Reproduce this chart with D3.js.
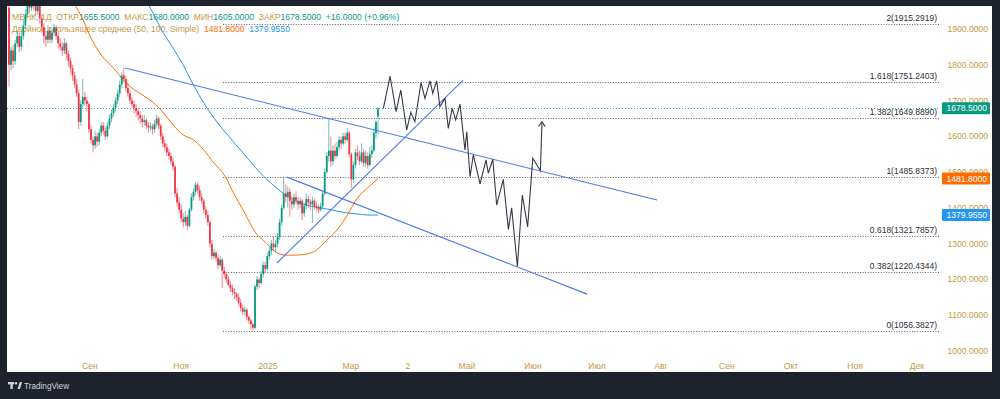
<!DOCTYPE html>
<html>
<head>
<meta charset="utf-8">
<script src="https://cdn.jsdelivr.net/npm/d3@7"></script>
<style>
  body { margin: 0; background: #1e222d; }
  svg { display: block; font-family: "Liberation Sans", Arial, sans-serif; }
</style>
</head>
<body>
<div id="chart"></div>
<script>
// daily candles, bar index 0..180
const candleOpen = [
  1960, 1800, 1840, 1810, 1860, 1880, 1850, 1880, 1910, 1940,
  1975, 1960, 1985, 1970, 1950, 1965, 1930, 1905, 1880, 1870,
  1895, 1870, 1890, 1905, 1880, 1860, 1850, 1840, 1860, 1830,
  1810, 1790, 1770, 1745, 1720, 1640, 1690, 1710, 1700, 1690,
  1620, 1590, 1575, 1600, 1585, 1610, 1630, 1615, 1600, 1630,
  1650, 1665, 1680, 1700, 1720, 1745, 1770, 1760, 1735, 1720,
  1700, 1690, 1680, 1670, 1660, 1650, 1640, 1645, 1630, 1625,
  1628, 1620, 1635, 1650, 1630, 1600, 1580, 1570, 1555, 1545,
  1530, 1515, 1440, 1415, 1395, 1370, 1360, 1375, 1350, 1395,
  1430, 1445, 1465, 1450, 1430, 1420, 1395, 1380, 1360, 1300,
  1265, 1275, 1260, 1240, 1255, 1225, 1215, 1200, 1185, 1175,
  1165, 1160, 1150, 1135, 1120, 1110, 1115, 1095, 1085, 1075,
  1065, 1180, 1200, 1190, 1215, 1240, 1230, 1265, 1280, 1300,
  1290, 1300, 1320, 1360, 1400, 1440, 1430, 1445, 1420, 1410,
  1430, 1420, 1410, 1420, 1385, 1405, 1425, 1415, 1410, 1420,
  1405, 1400, 1395, 1405, 1440, 1500, 1545, 1560, 1530, 1560,
  1545, 1570, 1590, 1580, 1600, 1590, 1610, 1550, 1480, 1520,
  1555, 1545, 1530, 1555, 1525, 1545, 1520, 1550, 1560, 1610,
  1655.5
];
const candleHigh = [
  1985, 1850, 1855, 1870, 1895, 1890, 1895, 1925, 1955, 1995,
  1990, 2010, 1995, 1980, 1985, 1970, 1940, 1915, 1895, 1910,
  1905, 1900, 1915, 1910, 1890, 1875, 1865, 1875, 1865, 1840,
  1820, 1800, 1780, 1760, 1730, 1700, 1760, 1725, 1710, 1695,
  1630, 1600, 1615, 1610, 1620, 1640, 1640, 1625, 1640, 1660,
  1675, 1690, 1710, 1730, 1755, 1780, 1792, 1770, 1750, 1730,
  1710, 1700, 1690, 1680, 1670, 1660, 1660, 1650, 1640, 1640,
  1635, 1645, 1660, 1655, 1635, 1610, 1590, 1580, 1565, 1555,
  1540, 1520, 1455, 1430, 1410, 1385, 1390, 1380, 1400, 1440,
  1455, 1472, 1470, 1460, 1440, 1425, 1405, 1390, 1365, 1310,
  1285, 1280, 1270, 1265, 1260, 1235, 1220, 1210, 1195, 1185,
  1175, 1165, 1160, 1145, 1130, 1125, 1120, 1100, 1090, 1080,
  1185, 1210, 1205, 1225, 1250, 1250, 1275, 1290, 1310, 1320,
  1310, 1330, 1370, 1410, 1486, 1465, 1460, 1455, 1435, 1440,
  1445, 1430, 1430, 1425, 1415, 1440, 1435, 1425, 1430, 1425,
  1415, 1410, 1415, 1445, 1510, 1555, 1651, 1600, 1575, 1580,
  1585, 1600, 1600, 1610, 1610, 1623, 1615, 1555, 1530, 1565,
  1575, 1560, 1580, 1565, 1560, 1555, 1570, 1575, 1625, 1645,
  1680
];
const candleLow = [
  1740, 1785, 1790, 1800, 1850, 1835, 1840, 1870, 1900, 1930,
  1945, 1950, 1955, 1935, 1940, 1915, 1890, 1860, 1850, 1860,
  1860, 1860, 1880, 1870, 1845, 1840, 1825, 1830, 1815, 1795,
  1775, 1755, 1735, 1710, 1620, 1630, 1680, 1685, 1670, 1610,
  1580, 1555, 1565, 1570, 1575, 1600, 1605, 1590, 1595, 1620,
  1640, 1655, 1670, 1690, 1710, 1735, 1750, 1725, 1710, 1690,
  1680, 1665, 1655, 1645, 1635, 1625, 1630, 1620, 1610, 1615,
  1605, 1610, 1625, 1620, 1590, 1570, 1560, 1545, 1535, 1520,
  1505, 1430, 1405, 1385, 1360, 1345, 1350, 1338, 1345, 1390,
  1420, 1435, 1440, 1420, 1410, 1385, 1370, 1350, 1290, 1255,
  1255, 1250, 1230, 1235, 1176, 1205, 1190, 1180, 1165, 1155,
  1145, 1140, 1125, 1110, 1100, 1100, 1085, 1075, 1060, 1056,
  1060, 1170, 1175, 1185, 1205, 1220, 1225, 1255, 1270, 1280,
  1275, 1290, 1310, 1350, 1395, 1415, 1400, 1375, 1395, 1400,
  1410, 1395, 1400, 1366, 1375, 1395, 1400, 1395, 1358, 1395,
  1390, 1385, 1390, 1400, 1435, 1495, 1530, 1515, 1520, 1535,
  1540, 1560, 1565, 1575, 1580, 1585, 1540, 1456, 1470, 1510,
  1535, 1520, 1525, 1515, 1515, 1510, 1515, 1540, 1555, 1595,
  1605
];
const candleClose = [
  1800, 1840, 1810, 1860, 1880, 1850, 1880, 1910, 1940, 1975,
  1960, 1985, 1970, 1950, 1965, 1930, 1905, 1880, 1870, 1895,
  1870, 1890, 1905, 1880, 1860, 1850, 1840, 1860, 1830, 1810,
  1790, 1770, 1745, 1720, 1640, 1690, 1710, 1700, 1690, 1620,
  1590, 1575, 1600, 1585, 1610, 1630, 1615, 1600, 1630, 1650,
  1665, 1680, 1700, 1720, 1745, 1770, 1760, 1735, 1720, 1700,
  1690, 1680, 1670, 1660, 1650, 1640, 1645, 1630, 1625, 1628,
  1620, 1635, 1650, 1630, 1600, 1580, 1570, 1555, 1545, 1530,
  1515, 1440, 1415, 1395, 1370, 1360, 1375, 1350, 1395, 1430,
  1445, 1465, 1450, 1430, 1420, 1395, 1380, 1360, 1300, 1265,
  1275, 1260, 1240, 1255, 1225, 1215, 1200, 1185, 1175, 1165,
  1160, 1150, 1135, 1120, 1110, 1115, 1095, 1085, 1075, 1065,
  1180, 1200, 1190, 1215, 1240, 1230, 1265, 1280, 1300, 1290,
  1300, 1320, 1360, 1400, 1440, 1430, 1445, 1420, 1410, 1430,
  1420, 1410, 1420, 1385, 1405, 1425, 1415, 1410, 1420, 1405,
  1400, 1395, 1405, 1440, 1500, 1545, 1560, 1530, 1560, 1545,
  1570, 1590, 1580, 1600, 1590, 1610, 1550, 1480, 1520, 1555,
  1545, 1530, 1555, 1525, 1545, 1520, 1550, 1560, 1610, 1640,
  1678.5
];

// moving averages (sampled every 5 bars)
const maBars = [30, 35, 40, 45, 50, 55, 60, 65, 70, 75, 80, 85, 90, 95, 100, 105, 110,
  115, 120, 125, 130, 135, 140, 145, 150, 155, 160, 165, 170, 175, 180];
const sma50 = [1985, 1939, 1875, 1827, 1797, 1763, 1735, 1716, 1696, 1668, 1632, 1604, 1590,
  1562, 1525, 1492, 1436, 1386, 1333, 1305, 1277, 1268, 1268, 1271, 1282, 1310, 1338, 1380,
  1428, 1456, 1481.8];
const sma100 = [null, null, null, null, null, null, null, 2000, 1947, 1892, 1847, 1799, 1743,
  1693, 1651, 1615, 1581, 1548, 1514, 1484, 1458, 1436, 1419, 1408, 1402, 1397, 1391, 1386,
  1383, 1380, 1379.955];

// axes
const priceTicks = [1000, 1100, 1200, 1300, 1400, 1500, 1600, 1700, 1800, 1900];
const timeLabels = ["Сен", "Ноя", "2025", "Мар", "2", "Май", "Июн", "Июл", "Авг", "Сен", "Окт", "Ноя", "Дек"];
const timeBars = [39.5, 83.9, 126.3, 166.8, 194.6, 223.4, 255.6, 286.8, 318.0, 350.2, 381.5, 412.7, 442.9];

// fibonacci extension
const fibRatios = ["0", "0.382", "0.618", "1", "1.382", "1.618", "2"];
const fibPrices = [1056.3827, 1220.4344, 1321.7857, 1485.8373, 1649.8890, 1751.2403, 1915.2919];
const fibBars = [104.4, 455.6];

// trend lines: [bar, price] pairs
const trendLines = [
  [[56.6, 1791], [316.1, 1422]],
  [[130.7, 1246], [221.5, 1757]],
  [[135.6, 1486], [282.0, 1159]]
];

// projected path (drawing)
const pathBars = [182.6, 185.9, 188.8, 191.1, 194.0, 196.0, 198.0, 201.0, 202.9, 205.4, 206.7,
  208.6, 210.2, 212.7, 214.3, 216.2, 217.9, 220.0, 222.4, 223.3, 224.9, 226.5, 229.8, 232.7,
  233.8, 236.0, 237.9, 241.1, 243.6, 245.2, 248.0, 250.4, 253.0, 255.5, 259.2, 260.0];
const pathPrices = [1678, 1768, 1669, 1729, 1618, 1667, 1641, 1750, 1706, 1755, 1720, 1755,
  1683, 1706, 1622, 1678, 1646, 1690, 1562, 1613, 1487, 1548, 1467, 1534, 1497, 1536, 1408,
  1480, 1340, 1400, 1236, 1436, 1347, 1539, 1504, 1641];

const lastPrice = 1678.5, ma50Last = 1481.8, ma100Last = 1379.955;

const upColor = "#089981", downColor = "#f23645";
const textColor = "#c49a43";

const W = 1000, H = 399;
const svg = d3.select("#chart").append("svg")
  .attr("width", W)
  .attr("height", H);

svg.append("rect").attr("width", W).attr("height", H).attr("fill", "#1e222d");
svg.append("rect").attr("x", 7).attr("y", 6).attr("width", 985).attr("height", 366).attr("fill", "#ffffff");

const x = d3.scaleLinear().domain([0, 180]).range([9, 378]);
const y = d3.scaleLinear().domain([1000, 1900]).range([351, 29]);

svg.append("clipPath").attr("id", "plot")
  .append("rect").attr("x", 7).attr("y", 6).attr("width", 933).attr("height", 349);

const plot = svg.append("g").attr("clip-path", "url(#plot)");

// legend text (sits under the candles)
const legend = plot.append("g").attr("font-size", 8.6);
const l1 = legend.append("text").attr("x", 12).attr("y", 20).attr("xml:space", "preserve");
[["МВНК, 1Д  ", textColor], ["ОТКР", textColor], ["1655.5000", upColor], ["  МАКС", textColor],
 ["1680.0000", upColor], ["  МИН", textColor], ["1605.0000", upColor], ["  ЗАКР", textColor],
 ["1678.5000", upColor], ["  +16.0000 (+0.96%)", upColor]].forEach(d => {
  l1.append("tspan").attr("fill", d[1]).text(d[0]);
});
const l2 = legend.append("text").attr("x", 12).attr("y", 32).attr("xml:space", "preserve");
l2.append("tspan").attr("fill", textColor).text("Двойное скользящее среднее (50, 100, Simple)  ");
l2.append("tspan").attr("fill", "#ff6d00").text(ma50Last.toFixed(4) + "  ");
l2.append("tspan").attr("fill", "#2196f3").text(ma100Last.toFixed(4));

// fib levels
fibPrices.forEach((p, i) => {
  plot.append("line")
    .attr("x1", x(fibBars[0])).attr("x2", x(fibBars[1]))
    .attr("y1", Math.round(y(p)) + 0.5).attr("y2", Math.round(y(p)) + 0.5)
    .attr("stroke", "#5d606b").attr("stroke-width", 1)
    .attr("stroke-dasharray", "1,1.6");
  plot.append("text")
    .attr("x", x(fibBars[1]) - 6).attr("y", y(p) - 3)
    .attr("text-anchor", "end").attr("font-size", 8.5).attr("fill", "#2a2e39")
    .text(fibRatios[i] + "(" + p.toFixed(4) + ")");
});

// current price line
plot.append("line")
  .attr("x1", 7).attr("x2", 940)
  .attr("y1", Math.round(y(lastPrice)) + 0.5).attr("y2", Math.round(y(lastPrice)) + 0.5)
  .attr("stroke", upColor).attr("stroke-width", 1).attr("stroke-dasharray", "1,2").attr("opacity", 0.8);

// moving averages
const maLine = vals => d3.line()
  .defined((d, i) => vals[i] != null)
  .x(d => x(d))
  .y((d, i) => y(vals[i]))
  .curve(d3.curveMonotoneX);
plot.append("path").attr("d", maLine(sma100)(maBars))
  .attr("fill", "none").attr("stroke", "#2196f3").attr("stroke-width", 1);
plot.append("path").attr("d", maLine(sma50)(maBars))
  .attr("fill", "none").attr("stroke", "#ff6d00").attr("stroke-width", 1);

// candles
const candles = plot.append("g");
candleClose.forEach((c, i) => {
  const o = candleOpen[i];
  const col = c >= o ? upColor : downColor;
  candles.append("line")
    .attr("x1", x(i)).attr("x2", x(i))
    .attr("y1", y(candleHigh[i])).attr("y2", y(candleLow[i]))
    .attr("stroke", col).attr("stroke-width", 1).attr("opacity", 0.6);
  const top = y(Math.max(o, c)), bot = y(Math.min(o, c));
  candles.append("rect")
    .attr("x", x(i) - 0.9).attr("width", 1.8)
    .attr("y", top).attr("height", Math.max(1, bot - top))
    .attr("fill", col);
});

// trend lines
trendLines.forEach(t => {
  plot.append("line")
    .attr("x1", x(t[0][0])).attr("y1", y(t[0][1]))
    .attr("x2", x(t[1][0])).attr("y2", y(t[1][1]))
    .attr("stroke", "#4a78f0").attr("stroke-width", 1.1);
});

// projected zigzag path with arrow
const zig = d3.line().x(d => x(d[0])).y(d => y(d[1]));
const pathPts = pathBars.map((b, i) => [b, pathPrices[i]]);
plot.append("path").attr("d", zig(pathPts))
  .attr("fill", "none").attr("stroke", "#363a45").attr("stroke-width", 1.1);
const n = pathPts.length;
const px = x(pathPts[n - 1][0]), py = y(pathPts[n - 1][1]);
const qx = x(pathPts[n - 2][0]), qy = y(pathPts[n - 2][1]);
const ang = Math.atan2(qy - py, qx - px);
const head = [ang - 0.6, ang + 0.6].map(a => [px + 6 * Math.cos(a), py + 6 * Math.sin(a)]);
plot.append("path")
  .attr("d", `M${head[0][0]},${head[0][1]}L${px},${py}L${head[1][0]},${head[1][1]}`)
  .attr("fill", "none").attr("stroke", "#363a45").attr("stroke-width", 1.1);

// price axis labels
svg.append("g").selectAll("text").data(priceTicks).join("text")
  .attr("x", 988).attr("y", d => y(d) + 3)
  .attr("text-anchor", "end").attr("font-size", 8.6).attr("fill", textColor)
  .text(d => d.toFixed(4));

// price badges
[[lastPrice, upColor], [ma50Last, "#ff6d00"], [ma100Last, "#2196f3"]].forEach(d => {
  const yy = y(d[0]);
  svg.append("rect").attr("x", 942).attr("y", yy - 6).attr("width", 48).attr("height", 12)
    .attr("fill", d[1]).attr("rx", 1);
  svg.append("text").attr("x", 987).attr("y", yy + 3)
    .attr("text-anchor", "end").attr("font-size", 8.6).attr("fill", "#fff")
    .text(d[0].toFixed(4));
});

// time axis labels
svg.append("g").selectAll("text").data(timeLabels).join("text")
  .attr("x", (d, i) => x(timeBars[i])).attr("y", 369)
  .attr("text-anchor", "middle").attr("font-size", 8.6).attr("fill", textColor)
  .text(d => d);

// TradingView mark
const logo = svg.append("g").attr("fill", "#d1d4dc");
logo.append("rect").attr("x", 8).attr("y", 382).attr("width", 6).attr("height", 2.4);
logo.append("rect").attr("x", 10.4).attr("y", 382).attr("width", 2.4).attr("height", 7);
logo.append("circle").attr("cx", 16).attr("cy", 383.2).attr("r", 1.3);
logo.append("path").attr("d", "M17.5,389 L19.8,382 L22.2,382 L19.9,389 Z");
svg.append("text").attr("x", 24).attr("y", 389).attr("font-size", 8.2)
  .attr("fill", "#d1d4dc").text("TradingView");
</script>
</body>
</html>
